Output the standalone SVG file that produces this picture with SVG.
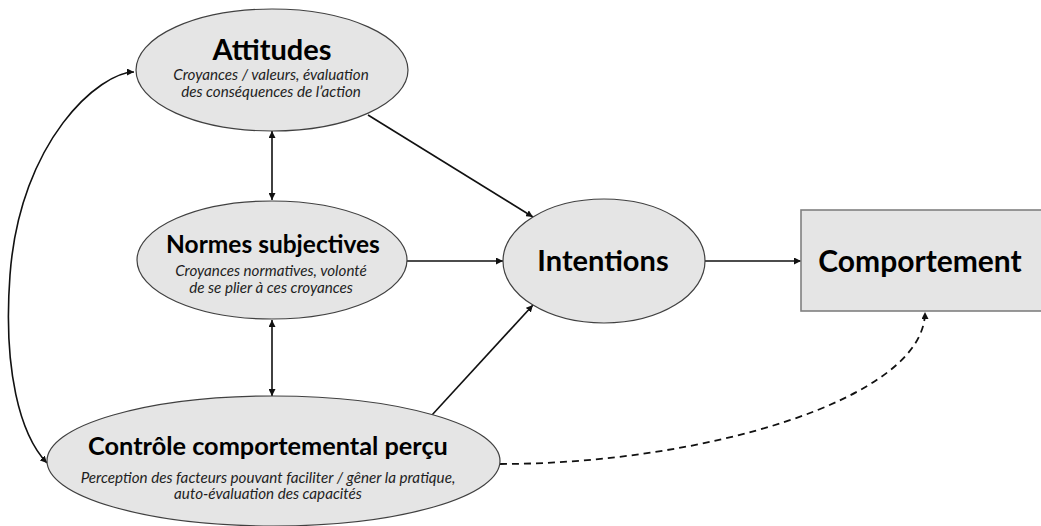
<svg xmlns="http://www.w3.org/2000/svg" width="1041" height="526" viewBox="0 0 1041 526">
<style>
.node{fill:#e5e5e5;stroke:#404040;stroke-width:1.2}
.box{fill:#e5e5e5;stroke:#808080;stroke-width:1.6}
.t{font-family:Lato,"Liberation Sans",sans-serif;font-weight:bold;fill:#000;text-anchor:middle}
.s{font-family:Lato,"Liberation Sans",sans-serif;font-style:italic;font-size:15.2px;fill:#1e1e1e;text-anchor:middle}
.c{fill:none;stroke:#111;stroke-width:1.6}
.d{fill:none;stroke:#111;stroke-width:1.8;stroke-dasharray:7 5}
</style>
<defs>
<marker id="ah" viewBox="0 0 10 10" refX="10" refY="5" markerWidth="7" markerHeight="7" markerUnits="userSpaceOnUse" orient="auto-start-reverse">
<path d="M0,0 L10,5 L0,10 z" fill="#111"/>
</marker>
</defs>
<g id="connectors">
<path class="c" d="M134,72 C100,72 20,140 10,275 C3,370 20,435 47,463" marker-start="url(#ah)" marker-end="url(#ah)"/>
<line class="c" x1="272" y1="131" x2="272" y2="200" marker-start="url(#ah)" marker-end="url(#ah)"/>
<line class="c" x1="272" y1="320" x2="272" y2="396" marker-start="url(#ah)" marker-end="url(#ah)"/>
<line class="c" x1="368" y1="115" x2="533" y2="217" marker-end="url(#ah)"/>
<line class="c" x1="407" y1="261" x2="503" y2="261" marker-end="url(#ah)"/>
<line class="c" x1="432" y1="415" x2="533" y2="305" marker-end="url(#ah)"/>
<line class="c" x1="705" y1="261" x2="801" y2="261" marker-end="url(#ah)"/>
<path class="d" d="M500,464 C700,464 925,400 925,312" marker-end="url(#ah)"/>
</g>
<g id="attitudes">
<ellipse class="node" cx="272" cy="70" rx="136" ry="61"/>
<text class="t" x="272" y="60" font-size="29">Attitudes</text>
<text class="s" x="271" y="80">Croyances / valeurs, évaluation</text>
<text class="s" x="271" y="97">des conséquences de l’action</text>
</g>
<g id="normes">
<ellipse class="node" cx="272" cy="260" rx="135" ry="59"/>
<text class="t" x="273" y="253" font-size="24.5">Normes subjectives</text>
<text class="s" x="271" y="276">Croyances normatives, volonté</text>
<text class="s" x="271" y="293">de se plier à ces croyances</text>
</g>
<g id="controle">
<ellipse class="node" cx="273.5" cy="461" rx="226.5" ry="65"/>
<text class="t" x="268" y="455" font-size="25.3">Contrôle comportemental perçu</text>
<text class="s" x="268" y="483">Perception des facteurs pouvant faciliter / gêner la pratique,</text>
<text class="s" x="268" y="499">auto-évaluation des capacités</text>
</g>
<g id="intentions">
<ellipse class="node" cx="604" cy="261" rx="101" ry="62"/>
<text class="t" x="603" y="271" font-size="29">Intentions</text>
</g>
<g id="comportement">
<rect class="box" x="801" y="210" width="250" height="101"/>
<text class="t" x="920" y="272" font-size="30">Comportement</text>
</g>
</svg>
